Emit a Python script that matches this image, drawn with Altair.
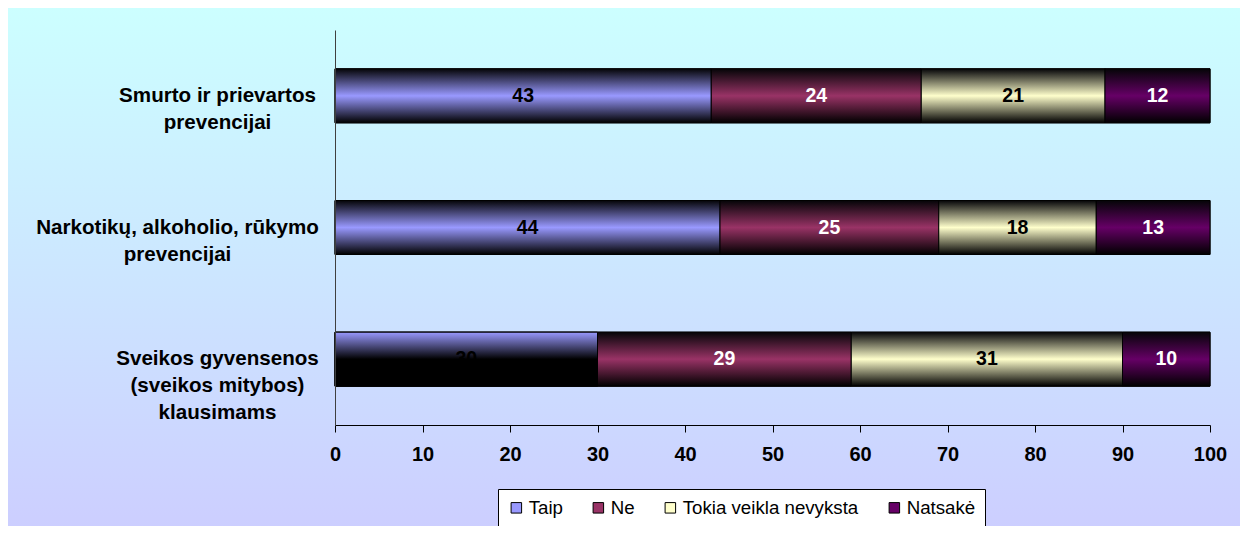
import altair as alt
import pandas as pd

# ---- data ----
categories = [
    "Smurto ir prievartos\nprevencijai",
    "Narkotikų, alkoholio, rūkymo\nprevencijai",
    "Sveikos gyvensenos\n(sveikos mitybos)\nklausimams",
]
series = ["Taip", "Ne", "Tokia veikla nevyksta", "Natsakė"]
taip = [43, 44, 30]
ne = [24, 25, 29]
tokia = [21, 18, 31]
natsake = [12, 13, 10]
x_ticks = [0, 10, 20, 30, 40, 50, 60, 70, 80, 90, 100]

colors = ["#9999FF", "#993366", "#FFFFCC", "#660066"]
white_text_series = ["Ne", "Natsakė"]

rows = []
for si, (s, vals) in enumerate(zip(series, [taip, ne, tokia, natsake])):
    for c, v in zip(categories, vals):
        rows.append({"category": c, "series": s, "value": v, "order": si})
df = pd.DataFrame(rows)

FONT = "Liberation Sans, Arial, sans-serif"


def grad(color):
    return {
        "gradient": "linear", "x1": 0, "y1": 0, "x2": 0, "y2": 1,
        "stops": [
            {"offset": 0, "color": "#050508"},
            {"offset": 0.5, "color": color},
            {"offset": 1, "color": "#000000"},
        ],
    }


special_grad = {
    "gradient": "linear", "x1": 0, "y1": 0, "x2": 0, "y2": 1,
    "stops": [
        {"offset": 0, "color": "#9999FF"},
        {"offset": 0.5, "color": "#000000"},
        {"offset": 1, "color": "#000000"},
    ],
}

bg_grad = {
    "gradient": "linear", "x1": 0, "y1": 0, "x2": 0, "y2": 1,
    "stops": [
        {"offset": 0, "color": "#CCFFFF"},
        {"offset": 1, "color": "#CCCCFF"},
    ],
}

x_axis = alt.Axis(
    values=x_ticks, title=None, grid=False, domainColor="black", tickColor="black",
    tickSize=7, labelFont=FONT, labelFontSize=20, labelFontWeight="bold",
    labelColor="black", labelPadding=12, labelFlush=False, zindex=1,
)
y_axis = alt.Axis(
    title=None, ticks=False, domainColor="#404040", labelFont=FONT,
    labelFontSize=20.6, labelFontWeight="bold", labelColor="black",
    labelAlign="center", labelBaseline="middle", labelLineHeight=27,
    labelLimit=0, labelExpr="split(datum.label, '\\n')",
    labelPadding={"condition": {"test": "indexof(datum.value, 'Narkotik') >= 0", "value": 158}, "value": 118},
    zindex=1,
)

X = alt.X("x0:Q", scale=alt.Scale(domain=[0, 100], nice=False), axis=x_axis)
Y = alt.Y("category:N", sort=categories,
          scale=alt.Scale(paddingInner=0.59, paddingOuter=0.295), axis=y_axis)

base = alt.Chart(df).transform_stack(
    stack="value", groupby=["category"],
    sort=[alt.SortField("order", order="ascending")], as_=["x0", "x1"],
)

bg = alt.Chart(pd.DataFrame({"bg": [0]})).mark_rect(color=bg_grad).encode(
    x=alt.value(-328), x2=alt.value(920), y=alt.value(-23), y2=alt.value(520)
)

flat = base.mark_bar(stroke="black", strokeWidth=1).encode(
    x=X, x2="x1:Q", y=Y,
    color=alt.Color(
        "series:N", sort=series,
        scale=alt.Scale(domain=series, range=colors),
        legend=alt.Legend(
            orient="none", legendX=163, legendY=459, direction="horizontal",
            title=None, fillColor="white", strokeColor="black", padding=9,
            symbolType="square", symbolSize=110, symbolStrokeColor="black",
            symbolStrokeWidth=1, labelFont=FONT, labelFontSize=18.7,
            labelColor="black", columnPadding=26, labelOffset=3, labelLimit=0,
            zindex=1,
        ),
    ),
)

layers = [bg, flat]
for s, c in zip(series, colors):
    layers.append(
        base.transform_filter(alt.datum.series == s)
        .mark_bar(color=grad(c), stroke="black", strokeWidth=1)
        .encode(x=X, x2="x1:Q", y=Y)
    )

layers.append(
    base.transform_filter((alt.datum.series == "Taip") & (alt.datum.category == categories[2]))
    .mark_bar(color=special_grad, stroke="black", strokeWidth=1)
    .encode(x=X, x2="x1:Q", y=Y)
)

text_base = base.transform_calculate(mid="(datum.x0 + datum.x1) / 2")
white_filter = "indexof(" + str(white_text_series).replace("'", '"') + ", datum.series) >= 0"
layers.append(
    text_base.transform_filter(white_filter)
    .mark_text(font=FONT, fontSize=19.5, fontWeight="bold", color="white", baseline="middle")
    .encode(x=alt.X("mid:Q", scale=alt.Scale(domain=[0, 100], nice=False), axis=x_axis), y=Y, text="value:Q")
)
layers.append(
    text_base.transform_filter("!(" + white_filter + ")")
    .mark_text(font=FONT, fontSize=19.5, fontWeight="bold", color="black", baseline="middle")
    .encode(x=alt.X("mid:Q", scale=alt.Scale(domain=[0, 100], nice=False), axis=x_axis), y=Y, text="value:Q")
)

chart = alt.layer(*layers).properties(
    width=875, height=395,
    autosize=alt.AutoSizeParams(type="none"),
    padding={"left": 327, "top": 22, "right": 30, "bottom": 101},
    background="white",
).configure_view(stroke=None)

chart.save("out.html", embed_options={"renderer": "svg", "actions": False})
